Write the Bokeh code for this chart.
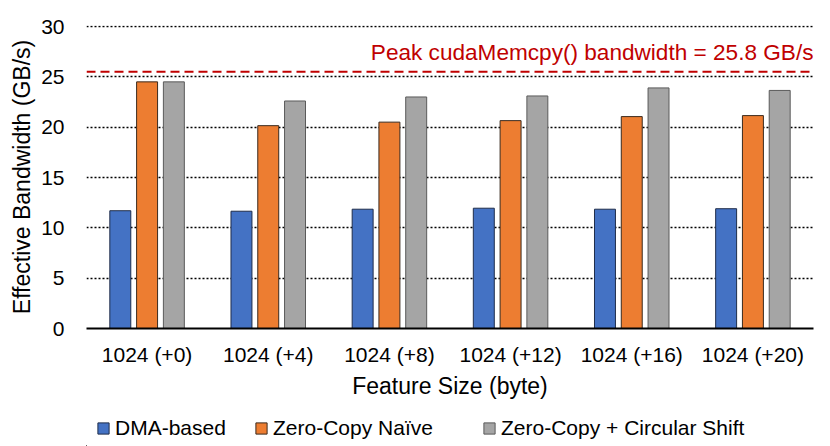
from bokeh.plotting import figure
from bokeh.models import ColumnDataSource, Legend, LegendItem, Span, Label, FactorRange, Range1d, FixedTicker
from bokeh.transform import dodge
from bokeh.layouts import column
from bokeh.embed import file_html
from bokeh.resources import INLINE

categories = ["1024 (+0)", "1024 (+4)", "1024 (+8)", "1024 (+12)", "1024 (+16)", "1024 (+20)"]
dma_based = [11.7, 11.65, 11.85, 11.95, 11.85, 11.9]
zero_copy_naive = [24.5, 20.15, 20.5, 20.65, 21.05, 21.15]
zero_copy_shift = [24.5, 22.6, 23.0, 23.1, 23.9, 23.65]
series_names = ["DMA-based", "Zero-Copy Naïve", "Zero-Copy + Circular Shift"]
y_ticks = [0, 5, 10, 15, 20, 25, 30]
peak_bandwidth = 25.8
peak_line_level = 25.5

FONT = "Liberation Sans"
W = 829

src = ColumnDataSource(dict(cat=categories, dma=dma_based, naive=zero_copy_naive, shift=zero_copy_shift))

p = figure(
    x_range=FactorRange(*categories, range_padding=0),
    y_range=Range1d(0, 30.1),
    frame_width=727, frame_height=303,
    min_border_left=86, min_border_right=16, min_border_top=25, min_border_bottom=80,
    output_backend="svg", toolbar_location=None,
)
p.outline_line_color = None
p.background_fill_color = "white"
p.border_fill_color = "white"

colors = ["#4472C4", "#ED7D31", "#A5A5A5"]
lines = ["#1F2D4A", "#3A2A1E", "#5A5A5A"]
fields = ["dma", "naive", "shift"]
offsets = [-0.221, 0.0, 0.221]
for f, c, lc, off in zip(fields, colors, lines, offsets):
    p.vbar(x=dodge("cat", off, range=p.x_range), top=f, width=0.173, source=src,
           fill_color=c, line_color=lc, line_width=1)

# grid
p.xgrid.grid_line_color = None
p.ygrid.ticker = FixedTicker(ticks=y_ticks)
p.ygrid.grid_line_color = "black"
p.ygrid.grid_line_dash = "2 2"
p.ygrid.grid_line_width = 1.5

# y axis
p.yaxis.ticker = FixedTicker(ticks=y_ticks)
p.yaxis.axis_line_color = None
p.yaxis.major_tick_line_color = None
p.yaxis.minor_tick_line_color = None
p.yaxis.major_label_standoff = 16
p.yaxis.major_label_text_font = FONT
p.yaxis.major_label_text_font_size = "21px"
p.yaxis.major_label_text_color = "black"
p.yaxis.axis_label = "Effective Bandwidth (GB/s)"
p.yaxis.axis_label_text_font = FONT
p.yaxis.axis_label_text_font_size = "23px"
p.yaxis.axis_label_text_font_style = "normal"
p.yaxis.axis_label_text_color = "black"
p.yaxis.axis_label_standoff = 3

# x axis
p.xaxis.axis_line_color = "black"
p.xaxis.axis_line_width = 2
p.xaxis.major_tick_line_color = None
p.xaxis.minor_tick_line_color = None
p.xaxis.major_label_standoff = 8
p.xaxis.major_label_text_font = FONT
p.xaxis.major_label_text_font_size = "21px"
p.xaxis.major_label_text_color = "black"
p.xaxis.axis_label = "Feature Size (byte)"
p.xaxis.axis_label_text_font = FONT
p.xaxis.axis_label_text_font_size = "23px"
p.xaxis.axis_label_text_font_style = "normal"
p.xaxis.axis_label_text_color = "black"
p.xaxis.axis_label_standoff = 4

# peak line and label
p.add_layout(Span(location=peak_line_level, dimension="width", line_color="#C00000",
                  line_dash="9 5", line_width=2))
p.add_layout(Label(x=len(categories), y=27.4, text=f"Peak cudaMemcpy() bandwidth = {peak_bandwidth} GB/s",
                   text_align="right", text_baseline="alphabetic", text_color="#C00000",
                   text_font=FONT, text_font_size="22.6px"))

# legend strip below the chart (its frame is aligned with the chart's frame)
LH = 38
p2 = figure(width=W, height=LH, min_border=0, x_range=Range1d(0, W), y_range=Range1d(0, LH),
            x_axis_location=None, y_axis_location=None,
            output_backend="svg", toolbar_location=None)
p2.outline_line_color = None
p2.grid.visible = False
p2.background_fill_color = "white"
p2.border_fill_color = "white"

legend_x = [10, 168, 396]
for name, c, lc, lx in zip(series_names, colors, lines, legend_x):
    # proxy renderer placed outside the visible range; only its legend swatch is shown
    r = p2.vbar(x=[-1000], top=[1], width=1, fill_color=c, line_color=lc, line_width=1)
    lg = Legend(items=[LegendItem(label=name, renderers=[r])], location=(lx, 6),
                orientation="horizontal", padding=0, margin=0, spacing=0,
                glyph_width=14, glyph_height=14, label_standoff=5,
                label_text_font=FONT, label_text_font_size="21px", label_text_color="black",
                border_line_color=None, background_fill_alpha=0)
    p2.add_layout(lg, "center")

layout = column(p, p2, spacing=0)
open("out.html", "w").write(file_html(layout, INLINE))
